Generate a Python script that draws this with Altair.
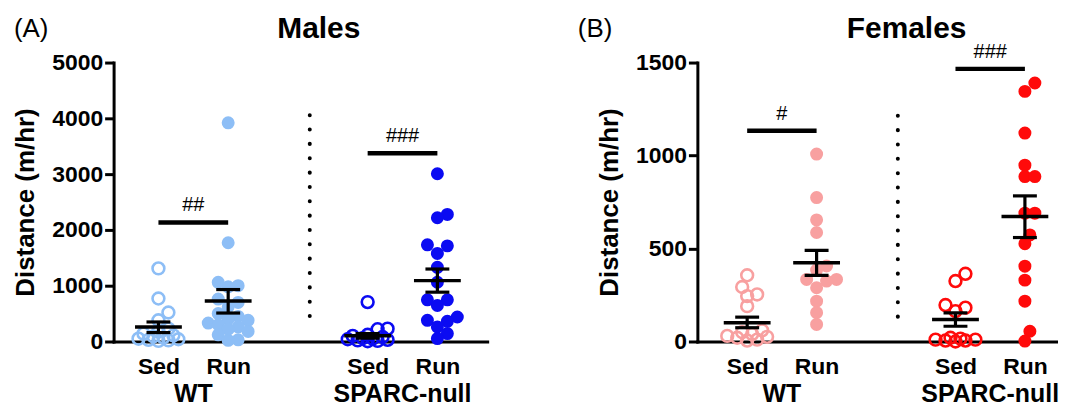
import altair as alt
import pandas as pd

# ---------------- data ----------------
conditions = ["Sed", "Run", "Sed", "Run"]
genotypes = ["WT", "SPARC-null"]
positions = [1, 2, 4, 5]          # slot of each group on the x scale
genotype_pos = [1.5, 4.5]
separator_pos = 3.17

# Males (m/hr)
male_wt_sed = [1310, 770, 520, 380, 230, 180, 140, 110, 90, 70, 50, 40, 30, 20, 10]
male_wt_run = [3920, 1770, 1060, 1000, 980, 760, 700, 620, 500, 450, 400, 380,
               330, 300, 260, 220, 180, 120, 30, 20]
male_ko_sed = [706, 230, 220, 120, 100, 80, 60, 50, 40, 30, 20, 10, 5]
male_ko_run = [3007, 2278, 2218, 1732, 1714, 1578, 1329, 1062, 747, 747, 646,
               439, 380, 362, 261, 142, 53]
male_mean = [261, 724, 101, 1091]
male_sem_lo = [160, 510, 60, 884]
male_sem_hi = [350, 931, 140, 1299]
male_sig_y = [2135, 3375]
male_sig_txt = ["##", "###"]
male_sep = [4057, 231]
male_ticks = [0, 1000, 2000, 3000, 4000, 5000]

# Females (m/hr)
fem_wt_sed = [356, 293, 253, 244, 190, 60, 50, 40, 30, 25, 20, 10, 5]
fem_wt_run = [1008, 774, 654, 586, 406, 384, 334, 334, 325, 289, 217, 155, 92]
fem_ko_sed = [364, 325, 196, 182, 163, 20, 15, 10, 10, 5, 5, 0]
fem_ko_run = [1390, 1345, 1121, 948, 887, 887, 690, 690, 573, 526, 405, 330,
              217, 55, 2]
fem_mean = [101, 424, 118, 672]
fem_sem_lo = [74, 356, 82, 559]
fem_sem_hi = [131, 490, 154, 783]
fem_sig_y = [1133, 1466]
fem_sig_txt = ["#", "###"]
fem_sep = [1214, 74]
fem_ticks = [0, 500, 1000, 1500]

male_colors = ["#8DBEF6", "#8DBEF6", "#0B0BF2", "#0B0BF2"]
fem_colors = ["#F8A0A0", "#F8A0A0", "#FF0A0A", "#FF0A0A"]
filled = [False, True, False, True]

FONT = "Liberation Sans"
H = 280


def swarm(values, px_per_unit, step=5.0, min_dist=10.0, max_steps=4):
    """deterministic beeswarm with limited spread: horizontal pixel offsets"""
    placed = []
    res = [0.0] * len(values)
    order = sorted(range(len(values)), key=lambda i: values[i])
    cands = [0.0]
    for j in range(1, max_steps + 1):
        cands += [j * step, -j * step]
    for i in order:
        y = values[i] * px_per_unit
        best, best_d = None, -1.0
        for c in cands:
            d = min([((c - px) ** 2 + (y - py) ** 2) ** 0.5 for px, py in placed]
                    or [1e9])
            if d >= min_dist:
                best = c
                break
            if d > best_d + 0.5:
                best, best_d = c, d
        placed.append((best, y))
        res[i] = best
    return res


def panel(groups, means, lo, hi, sig_y, sig_txt, sep, ticks, colors, ymax,
          xdom, width, title, tag, tag_x, title_x):
    px_per_pos = width / (xdom[1] - xdom[0])
    px_per_unit = H / ymax
    xs = alt.Scale(domain=xdom, nice=False, zero=False)
    ys = alt.Scale(domain=[0, ymax], nice=False)
    label_expr = " : ".join(
        f"datum.value == {p} ? '{c}'" for p, c in zip(positions, conditions)
    ) + " : ''"
    xax = alt.Axis(values=positions, labelExpr=label_expr, ticks=False,
                   domainWidth=3, domainColor="black", domainCap="square",
                   labelFontSize=23, labelFontWeight="bold", labelColor="black",
                   labelFont=FONT, labelPadding=14, grid=False, title=None)
    yax = alt.Axis(values=ticks, grid=False, domainWidth=3, domainColor="black",
                   domainCap="square", tickWidth=3, tickColor="black", tickSize=9,
                   labelFontSize=23, labelFontWeight="bold", labelColor="black",
                   labelFont=FONT, labelPadding=2, title="Distance (m/hr)",
                   titleFontSize=26, titleFontWeight="bold", titleColor="black",
                   titleFont=FONT, titlePadding=13, format="d")
    X = lambda f: alt.X(f, type="quantitative", scale=xs, axis=xax, title=None)
    Y = lambda f: alt.Y(f, type="quantitative", scale=ys, axis=yax)

    layers = []
    for k, vals in enumerate(groups):
        offs = swarm(vals, px_per_unit)
        df = pd.DataFrame({"x": [positions[k] + o / px_per_pos for o in offs],
                           "y": vals})
        if filled[k]:
            m = alt.Chart(df).mark_point(filled=True, size=170, color=colors[k],
                                         opacity=1)
        else:
            m = alt.Chart(df).mark_point(filled=False, size=140, color=colors[k],
                                         strokeWidth=2.6, opacity=1)
        layers.append(m.encode(x=X("x"), y=Y("y")))

    stats = pd.DataFrame({"x": positions, "mean": means, "lo": lo, "hi": hi})
    base = alt.Chart(stats)
    layers.append(base.mark_rule(color="black", strokeWidth=3.2).encode(
        x=X("x"), y=Y("lo"), y2="hi"))
    layers.append(base.mark_tick(orient="horizontal", size=24, thickness=3.2,
                                 color="black", opacity=1).encode(x=X("x"), y=Y("lo")))
    layers.append(base.mark_tick(orient="horizontal", size=24, thickness=3.2,
                                 color="black", opacity=1).encode(x=X("x"), y=Y("hi")))
    layers.append(base.mark_tick(orient="horizontal", size=47, thickness=3.5,
                                 color="black", opacity=1).encode(x=X("x"), y=Y("mean")))

    sig = pd.DataFrame({"x": [positions[0], positions[2]],
                        "x2": [positions[1], positions[3]],
                        "xm": genotype_pos, "y": sig_y, "t": sig_txt})
    sb = alt.Chart(sig)
    layers.append(sb.mark_rule(color="black", strokeWidth=4.5).encode(
        x=X("x"), x2="x2", y=Y("y")))
    layers.append(sb.mark_text(fontSize=20, font=FONT, color="black", dy=-11,
                               baseline="alphabetic").encode(
        x=X("xm"), y=Y("y"), text="t"))

    sepdf = pd.DataFrame({"x": [separator_pos], "y": [sep[0]], "y2": [sep[1]]})
    layers.append(alt.Chart(sepdf).mark_rule(color="black", strokeWidth=4,
                                             strokeDash=[0.1, 14.3],
                                             strokeCap="round").encode(
        x=X("x"), y=Y("y"), y2="y2"))

    gdf = pd.DataFrame({"x": genotype_pos, "t": genotypes})
    layers.append(alt.Chart(gdf).mark_text(fontSize=25, fontWeight="bold",
                                           font=FONT, color="black",
                                           baseline="alphabetic").encode(
        x=X("x"), y=alt.value(H + 61), text="t"))

    layers.append(alt.Chart(pd.DataFrame({"t": [title]})).mark_text(
        fontSize=30, fontWeight="bold", font=FONT, color="black",
        baseline="alphabetic", align="center").encode(
        x=alt.value(title_x), y=alt.value(-25), text="t"))
    layers.append(alt.Chart(pd.DataFrame({"t": [tag]})).mark_text(
        fontSize=26, font=FONT, color="black", baseline="alphabetic",
        align="left").encode(x=alt.value(tag_x), y=alt.value(-26), text="t"))

    return alt.layer(*layers).properties(width=width, height=H)


left = panel([male_wt_sed, male_wt_run, male_ko_sed, male_ko_run],
             male_mean, male_sem_lo, male_sem_hi, male_sig_y, male_sig_txt,
             male_sep, male_ticks, male_colors, 5000, [0.357, 5.714], 375,
             "Males", "(A)", -100, 206)
right = panel([fem_wt_sed, fem_wt_run, fem_ko_sed, fem_ko_run],
              fem_mean, fem_sem_lo, fem_sem_hi, fem_sig_y, fem_sig_txt,
              fem_sep, fem_ticks, fem_colors, 1500, [0.283, 5.448], 360,
              "Females", "(B)", -120, 210)

chart = alt.hconcat(left, right, spacing=91).properties(
    padding={"left": 4, "top": 5, "right": 0, "bottom": 0}
).configure(
    font=FONT, background="white"
).configure_view(
    stroke=None
).configure_axis(
    domainColor="black", domainWidth=3, tickColor="black", tickWidth=3
)

chart.save("out.html", embed_options={"renderer": "svg", "actions": False})
